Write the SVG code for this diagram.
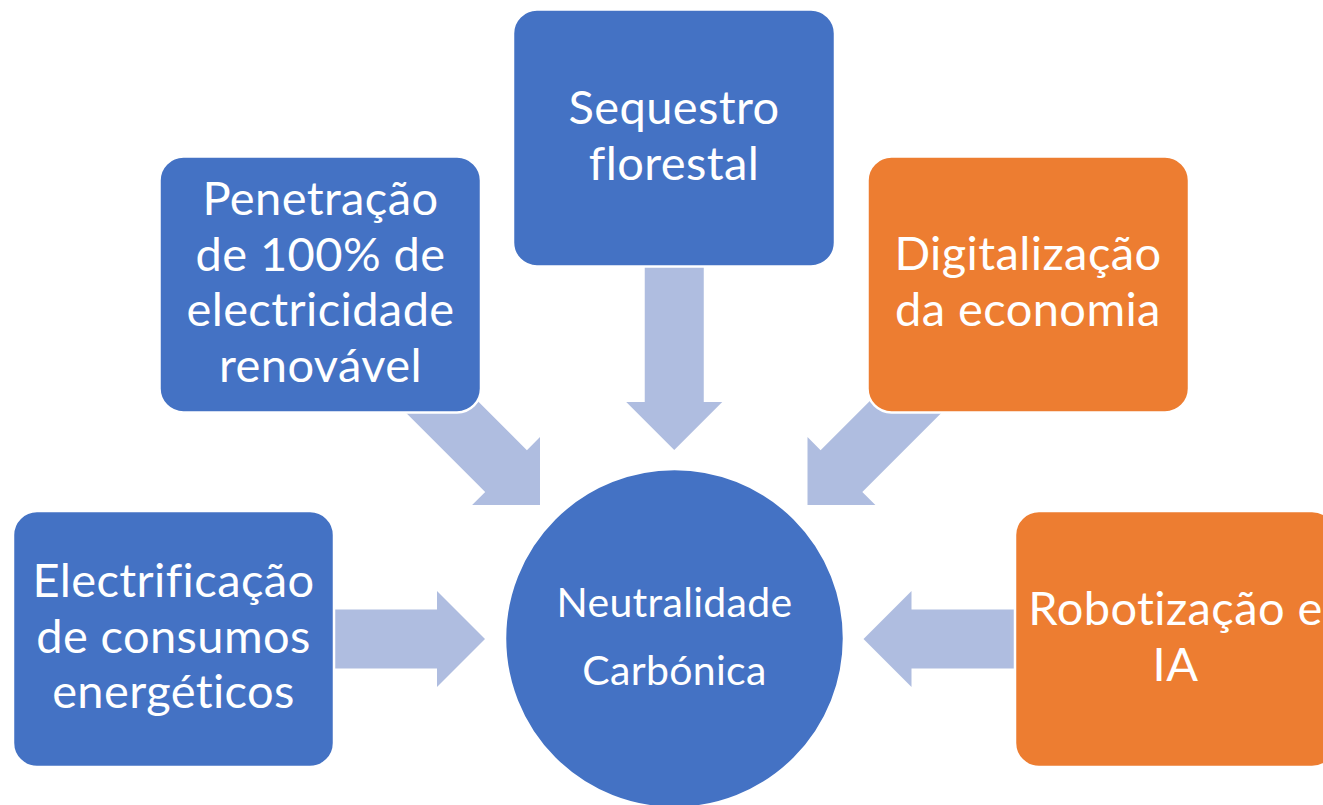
<svg xmlns="http://www.w3.org/2000/svg" xmlns:xlink="http://www.w3.org/1999/xlink" width="1323" height="805" viewBox="0 0 1323 805">
  <style>
    .blue { fill: #4472C4; stroke: #FFFFFF; stroke-width: 2.5; }
    .orange { fill: #ED7D31; stroke: #FFFFFF; stroke-width: 2.5; }
    .arrow { fill: #AFBDE0; }
    .lbl { fill: #FFFFFF; font-family: Lato, "Liberation Sans", sans-serif; font-size: 47px; letter-spacing: 0.4px; text-anchor: middle; }
    .clbl { fill: #FFFFFF; font-family: Lato, "Liberation Sans", sans-serif; font-size: 41px; letter-spacing: 0.3px; text-anchor: middle; }
  </style>
  <defs>
    <path id="blockArrow" d="M-200,-29.5 H-48 V-48 L0,0 L-48,48 V29.5 H-200 Z"/>
  </defs>
  <rect width="1323" height="805" fill="#FFFFFF"/>

  <g id="connectors" class="arrow">
    <use xlink:href="#blockArrow" href="#blockArrow" transform="translate(674.25,450) rotate(90)"/>
    <use xlink:href="#blockArrow" href="#blockArrow" transform="translate(540,505) rotate(45)"/>
    <use xlink:href="#blockArrow" href="#blockArrow" transform="translate(807.5,505) rotate(135)"/>
    <use xlink:href="#blockArrow" href="#blockArrow" transform="translate(485,639)"/>
    <use xlink:href="#blockArrow" href="#blockArrow" transform="translate(863.5,639) rotate(180)"/>
  </g>

  <g id="node-center">
    <circle class="blue" cx="674.5" cy="638.5" r="169.5"/>
    <text class="clbl" x="674.5" y="617">Neutralidade</text>
    <text class="clbl" x="674.5" y="685">Carbónica</text>
  </g>

  <g id="node-sequestro">
    <rect class="blue" x="513" y="9.5" width="322" height="257" rx="24"/>
    <text class="lbl" x="674" y="124">Sequestro</text>
    <text class="lbl" x="674" y="179.5">florestal</text>
  </g>

  <g id="node-penetracao">
    <rect class="blue" x="159.5" y="156.5" width="321.5" height="256" rx="24"/>
    <text class="lbl" x="320.5" y="215">Penetração</text>
    <text class="lbl" x="320.5" y="270.5">de 100% de</text>
    <text class="lbl" x="320.5" y="326">electricidade</text>
    <text class="lbl" x="320.5" y="381.5">renovável</text>
  </g>

  <g id="node-digitalizacao">
    <rect class="orange" x="867.5" y="156.5" width="321.5" height="256" rx="24"/>
    <text class="lbl" x="1028" y="270">Digitalização</text>
    <text class="lbl" x="1028" y="326">da economia</text>
  </g>

  <g id="node-electrificacao">
    <rect class="blue" x="13" y="511" width="321" height="256" rx="24"/>
    <text class="lbl" x="173.5" y="597">Electrificação</text>
    <text class="lbl" x="173.5" y="652.5">de consumos</text>
    <text class="lbl" x="173.5" y="708">energéticos</text>
  </g>

  <g id="node-robotizacao">
    <rect class="orange" x="1015" y="511" width="321" height="256" rx="24"/>
    <text class="lbl" x="1175.5" y="625">Robotização e</text>
    <text class="lbl" x="1175.5" y="681">IA</text>
  </g>
</svg>
